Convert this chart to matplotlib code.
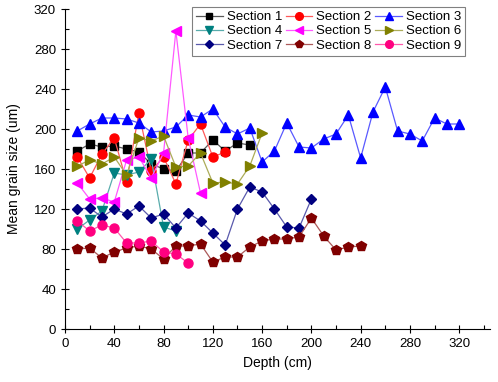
import matplotlib
matplotlib.use("Agg")
import matplotlib.pyplot as plt
from matplotlib.colors import to_rgb
from matplotlib.ticker import MultipleLocator

plt.rcParams['font.family'] = ['Liberation Sans', 'DejaVu Sans']

# depth (cm) and mean grain size (um) for each section
depth = [10 * (i + 1) for i in range(32)]

sec1 = [178, 185, 182, 183, 180, 177, 165, 160, 158, 176, 176, 189, 178, 186, 184]
sec2 = [172, 151, 175, 191, 147, 216, 158, 172, 145, 189, 205, 172, 177]
sec3 = [198, 205, 211, 211, 210, 206, 197, 198, 202, 214, 212, 220, 202, 195, 201, 167,
        178, 206, 182, 181, 190, 195, 214, 171, 217, 242, 198, 195, 188, 211, 205, 205]
sec4 = [100, 109, 118, 156, 154, 157, 170, 102, 98]
sec5 = [146, 130, 131, 127, 169, 172, 151, 176, 298, 191, 136]
sec6 = [163, 169, 165, 172, 154, 191, 188, 193, 162, 163, 176, 146, 147, 145, 163, 196]
sec7 = [120, 121, 112, 120, 115, 123, 111, 115, 101, 116, 108, 96, 84, 120, 142, 137,
        120, 102, 101, 130]
sec8 = [80, 81, 71, 77, 81, 83, 80, 70, 83, 83, 85, 67, 72, 72, 82, 88, 90, 90, 92, 111,
        93, 79, 82, 83]
sec9 = [108, 98, 104, 101, 86, 86, 88, 77, 75, 66]

series = [sec1, sec2, sec3, sec4, sec5, sec6, sec7, sec8, sec9]
labels = ['Section %d' % (i + 1) for i in range(9)]
colors = ['#000000', '#FF0000', '#0000FF', '#008080', '#FF00FF',
          '#808000', '#000080', '#800000', '#FF0080']
markers = ['s', 'o', '^', 'v', '<', '>', 'D', 'p', 'o']
msizes = [5.5, 6.5, 7, 7, 7, 7, 5, 7, 6.5]


def lighten(col, f=0.35):
    r, g, b = to_rgb(col)
    return (r + (1 - r) * f, g + (1 - g) * f, b + (1 - b) * f)


fig = plt.figure(figsize=(4.98, 3.82), dpi=100)
ax = fig.add_axes([65 / 498, 1 - 329 / 382, 425 / 498, 320 / 382])

handles = []
for ys, lab, col, mk, ms in zip(series, labels, colors, markers, msizes):
    ln, = ax.plot(depth[:len(ys)], ys, color=lighten(col), lw=0.9, marker=mk, ms=ms,
                  mec=col, mfc=col, label=lab)
    handles.append(ln)

ax.set_xlim(0, 345)
ax.set_ylim(0, 320)
ax.xaxis.set_major_locator(MultipleLocator(40))
ax.xaxis.set_minor_locator(MultipleLocator(20))
ax.yaxis.set_major_locator(MultipleLocator(40))
ax.yaxis.set_minor_locator(MultipleLocator(20))
ax.tick_params(which='major', direction='inout', length=6, width=0.8, labelsize=9.5)
ax.tick_params(which='minor', direction='in', length=3, width=0.8)
ax.spines['top'].set_visible(False)
ax.spines['right'].set_visible(False)

ax.set_xlabel('Depth (cm)', fontsize=10, labelpad=4)
ax.set_ylabel('Mean grain size (um)', fontsize=10, labelpad=9)

# legend fills row by row: reorder handles for matplotlib's column-wise filling
order = [0, 3, 6, 1, 4, 7, 2, 5, 8]
leg = ax.legend([handles[i] for i in order], [labels[i] for i in order], ncol=3,
                loc='upper right', bbox_to_anchor=(465 / 498, 1 - 7 / 382),
                bbox_transform=fig.transFigure, fontsize=9.5, fancybox=False,
                edgecolor='#808080', framealpha=1, borderaxespad=0,
                handlelength=2.0, handletextpad=0.3, columnspacing=0.3,
                labelspacing=0.15, borderpad=0.3, markerscale=0.85)
leg.get_frame().set_linewidth(0.8)

fig.savefig('out.png', dpi=100)
